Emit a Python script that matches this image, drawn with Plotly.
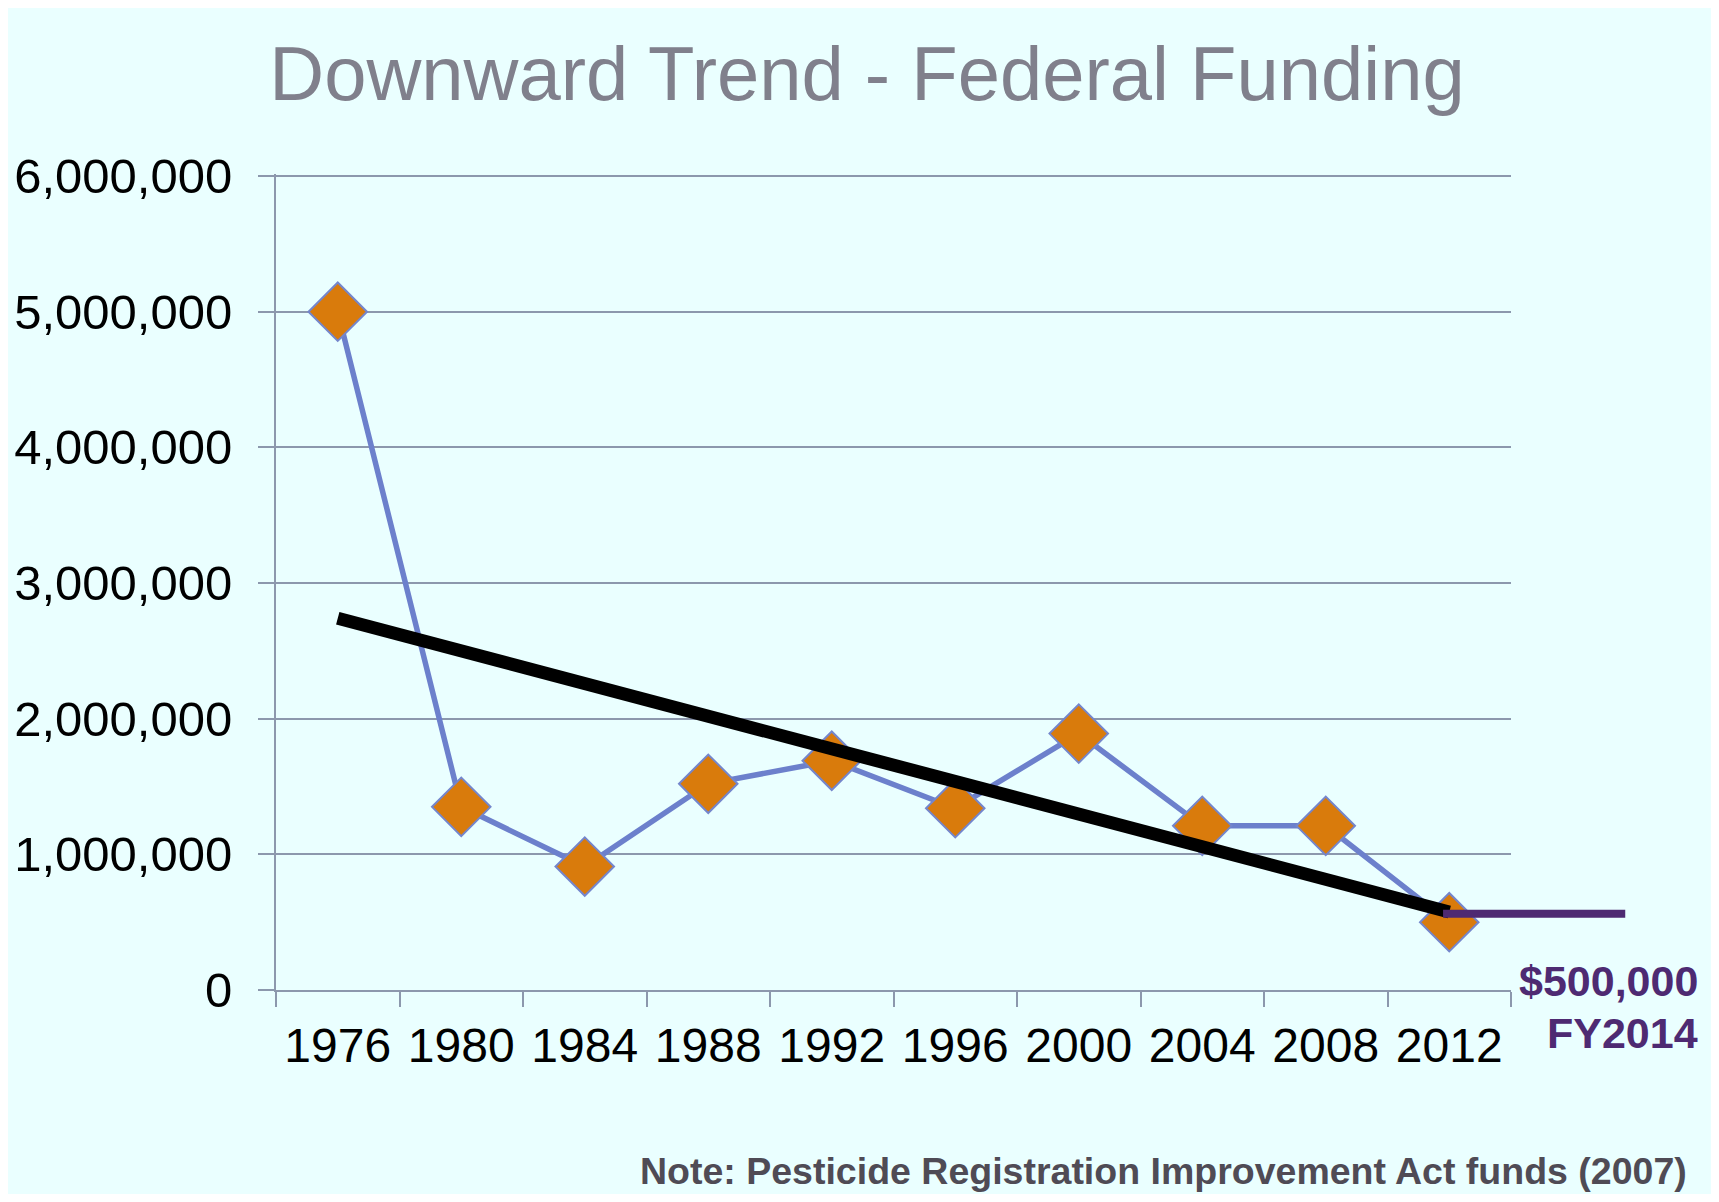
import plotly.graph_objects as go

# ---------------- data ----------------
years = ["1976", "1980", "1984", "1988", "1992", "1996", "2000", "2004", "2008", "2012"]
funding = [5000000, 1350000, 910000, 1520000, 1690000, 1340000, 1890000, 1210000, 1210000, 500000]

trend_years = ["1976", "2012"]
trend_values = [2740000, 575000]

fy2014_span_years = [2011.8, 2017.7]
fy2014_level = [562000, 562000]

y_tick_values = [0, 1000000, 2000000, 3000000, 4000000, 5000000, 6000000]
y_tick_labels = ["0", "1,000,000", "2,000,000", "3,000,000", "4,000,000", "5,000,000", "6,000,000"]

title_text = "Downward Trend - Federal Funding"
note_text = "Note: Pesticide Registration Improvement Act funds (2007)"
fy_label_1 = "$500,000"
fy_label_2 = "FY2014"

# ---------------- styling ----------------
BODY = 8                      # default page margin around the plot div
W, H = 1719 - 2 * BODY, 1202 - 2 * BODY
L = 276 - BODY                # y axis position
T = 174 - BODY                # top of plot area (6M gridline 2px below)
B = H - (990 - BODY)          # x axis position
R = W - (1660 - BODY)
plot_w = W - L - R
plot_h = H - T - B
main_w = 1235                 # width of main x axis (px)
cat_px = main_w / len(years)
y_top = 6000000 * plot_h / (plot_h - 2)

grid_c = "#8C98AD"
bg_c = "#EAFFFF"
font_f = "Liberation Sans, Arial, sans-serif"


def px_x(x_full):
    return (x_full - BODY - L) / plot_w


def px_y(y_full):
    return (990 - y_full) / plot_h


fig = go.Figure()

fig.add_trace(go.Scatter(
    x=years, y=funding, mode="lines+markers",
    line=dict(color="#6C80CC", width=5.5),
    marker=dict(symbol="diamond", size=45, color="#D97B0C",
                line=dict(color="#7486CC", width=2)),
    xaxis="x", yaxis="y", showlegend=False, cliponaxis=False,
))

fig.add_trace(go.Scatter(
    x=trend_years, y=trend_values, mode="lines",
    line=dict(color="#000000", width=13),
    xaxis="x", yaxis="y", showlegend=False,
))

fig.add_trace(go.Scatter(
    x=fy2014_span_years, y=fy2014_level, mode="lines",
    line=dict(color="#4E2A72", width=8),
    xaxis="x2", yaxis="y2", showlegend=False,
))

x2_start = 1976 - 4 * 0.5
x2_end = x2_start + 4 * plot_w / cat_px

fig.update_layout(
    width=W, height=H,
    margin=dict(l=L, r=R, t=T, b=B, pad=0, autoexpand=False),
    paper_bgcolor=bg_c,
    plot_bgcolor="rgba(0,0,0,0)",
    font=dict(family=font_f, color="#000000"),
    title=dict(text=title_text, xref="container", yref="container",
               x=(867 - BODY) / W, y=1 - (73 - BODY) / H, xanchor="center", yanchor="middle",
               font=dict(size=76, color="#80808C", family=font_f)),
    xaxis=dict(
        type="category", categoryorder="array", categoryarray=years,
        range=[-0.5, len(years) - 0.5],
        domain=[0, main_w / plot_w],
        tickson="boundaries", ticks="outside", ticklen=15, tickwidth=2, tickcolor=grid_c,
        showline=True, linecolor=grid_c, linewidth=2,
        showgrid=False, zeroline=False, automargin=False,
        tickfont=dict(size=48, color="#000000", family=font_f),
        ticklabelstandoff=12,
        anchor="y",
    ),
    yaxis=dict(
        range=[0, y_top], domain=[0, 1],
        tickvals=y_tick_values, ticktext=y_tick_labels,
        ticks="outside", ticklen=16, tickwidth=2, tickcolor=grid_c,
        showline=True, linecolor=grid_c, linewidth=2,
        showgrid=True, gridcolor=grid_c, gridwidth=2, zeroline=False,
        automargin=False,
        tickfont=dict(size=49, color="#000000", family=font_f),
        ticklabelstandoff=16,
        anchor="x",
    ),
    xaxis2=dict(range=[x2_start, x2_end], domain=[0, 1], visible=False,
                showgrid=False, zeroline=False, anchor="y2"),
    yaxis2=dict(range=[0, y_top], domain=[0, 1], visible=False,
                showgrid=False, zeroline=False, anchor="x2"),
    annotations=[
        dict(text="<b>" + note_text + "</b>", xref="paper", yref="paper",
             x=px_x(1689), y=px_y(1171),
             xanchor="right", yanchor="middle", showarrow=False,
             font=dict(size=37.5, color="#4F4B55", family=font_f)),
        dict(text="<b>" + fy_label_1 + "</b>", xref="paper", yref="paper",
             x=px_x(1700), y=px_y(981),
             xanchor="right", yanchor="middle", showarrow=False,
             font=dict(size=43, color="#4E2A72", family=font_f)),
        dict(text="<b>" + fy_label_2 + "</b>", xref="paper", yref="paper",
             x=px_x(1700), y=px_y(1033),
             xanchor="right", yanchor="middle", showarrow=False,
             font=dict(size=43, color="#4E2A72", family=font_f)),
    ],
)

fig.write_html("out.html")
